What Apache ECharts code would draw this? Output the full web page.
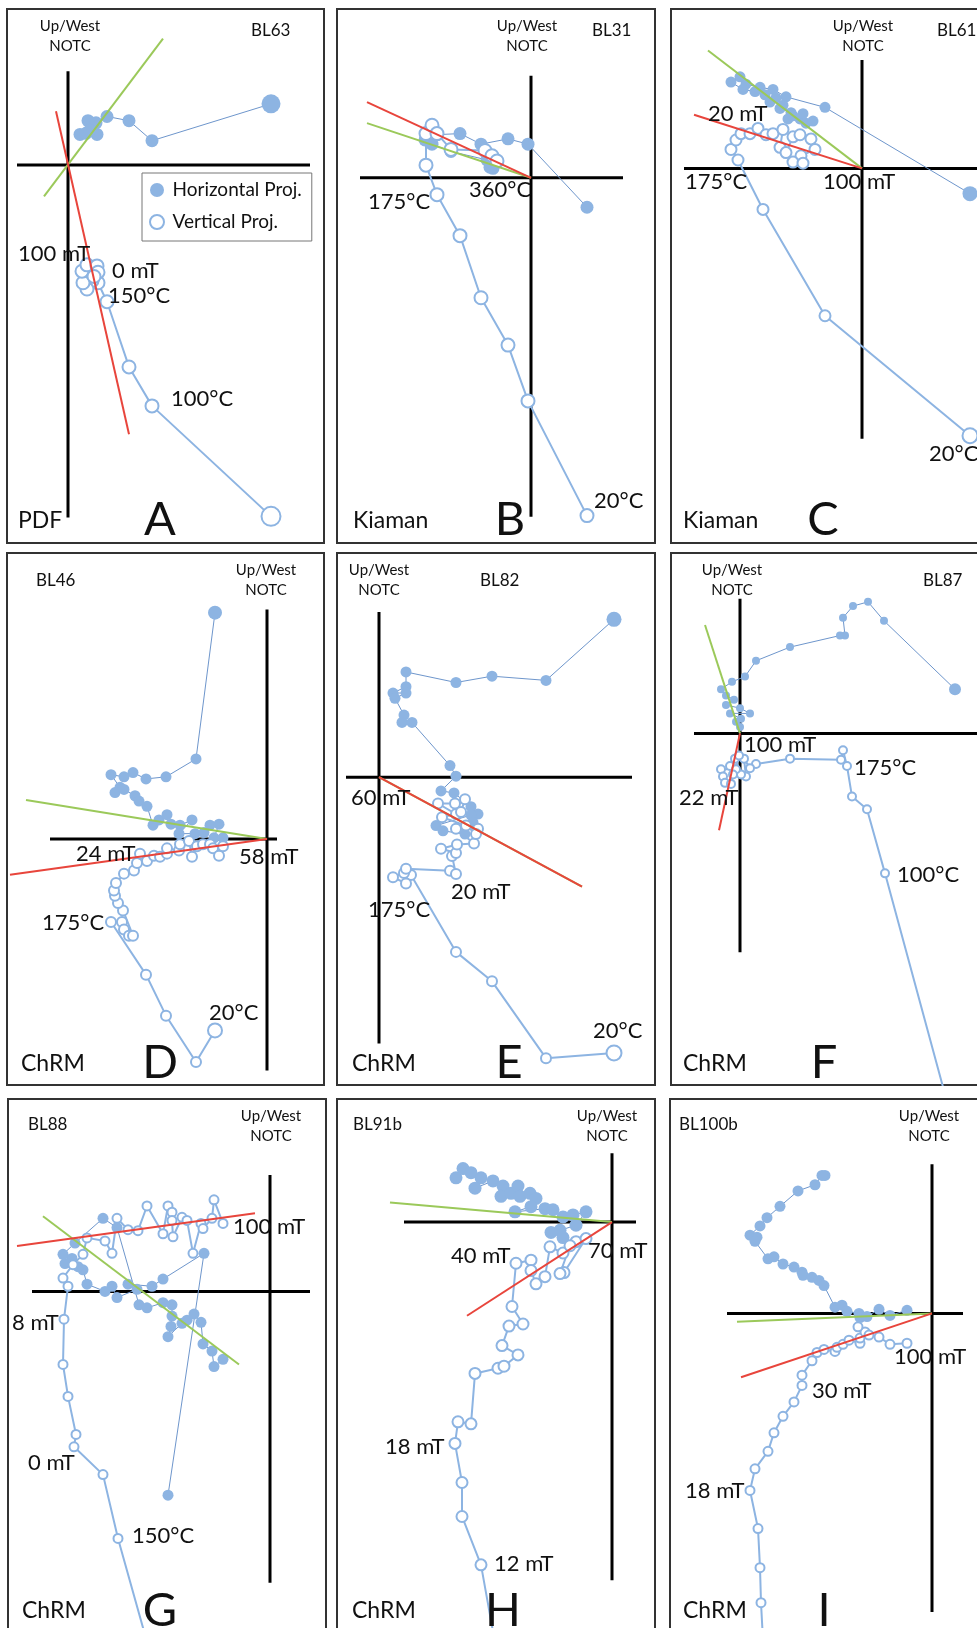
<!DOCTYPE html>
<html><head><meta charset="utf-8">
<script src="https://cdn.jsdelivr.net/npm/echarts@6/dist/echarts.min.js"></script>
<style>html,body{margin:0;padding:0;background:#fff}#c{width:977px;height:1628px}</style>
</head><body><div id="c"></div>
<script>
// ---------- DATA (arbitrary magnetisation units, origin at axis cross, y = up) ----------
const panelIds = ['A','B','C','D','E','F','G','H','I'];
const sampleNames = ['BL63','BL31','BL61','BL46','BL82','BL87','BL88','BL91b','BL100b'];
const componentNames = ['PDF','Kiaman','Kiaman','ChRM','ChRM','ChRM','ChRM','ChRM','ChRM'];
const legendNames = ['Horizontal Proj.','Vertical Proj.'];

const horizA = [[203,58],[84,23],[61,42],[39,46],[28,40],[20,42],[24,35],[12,29],[18,30],[29,29],[22,33]];
const vertA  = [[203,-334],[84,-229],[61,-192],[39,-130],[30,-112],[24,-110],[19,-118],[15,-112],[14,-101],[19,-95],[29,-96],[30,-102],[26,-106]];
const redA = [[-12,51],[61,-256]];
const greenA = [[-24,-30],[95,120]];

const horizB = [[56,-28],[-3,32],[-23,37],[-50,32],[-71,42],[-94,41],[-104,42],[-106,36],[-99,32],[-80,25],[-44,17],[-38,9],[-41,10]];
const vertB  = [[56,-321],[-3,-212],[-23,-159],[-50,-114],[-71,-55],[-94,-16],[-105,12],[-105,42],[-99,50],[-94,42],[-80,27],[-46,26],[-39,21],[-34,16]];
const redB = [[-164,72],[0,0]];
const greenB = [[-164,52],[0,0]];

const horizC = [[108,-24],[-37,58],[-76,68],[-89,75],[-102,77],[-116,80],[-122,87],[-131,82],[-119,75],[-107,73],[-97,70],[-92,63],[-86,67],[-79,60],[-82,57],[-71,53],[-74,47],[-69,50],[-62,47],[-59,52],[-56,43],[-49,45]];
const vertC  = [[108,-254],[-37,-140],[-99,-39],[-124,8],[-131,18],[-126,27],[-121,33],[-112,33],[-104,38],[-96,32],[-89,33],[-79,37],[-82,20],[-76,15],[-69,30],[-62,32],[-51,28],[-47,18],[-61,12],[-69,6],[-59,5]];
const redC = [[-168,51],[0,0]];
const greenC = [[-154,112],[0,0]];

const horizD = [[-52,215],[-71,76],[-101,59],[-121,57],[-134,63],[-143,59],[-156,61],[-147,49],[-152,44],[-143,47],[-132,41],[-128,36],[-120,31],[-114,13],[-108,18],[-100,23],[-96,14],[-87,13],[-75,18],[-88,5],[-72,5],[-63,6],[-57,13],[-48,14],[-53,1],[-44,1]];
const vertD  = [[-52,-182],[-71,-212],[-101,-168],[-121,-129],[-156,-79],[-145,-79],[-143,-86],[-138,-92],[-134,-92],[-144,-68],[-149,-61],[-152,-54],[-153,-49],[-151,-42],[-143,-33],[-133,-30],[-130,-23],[-127,-14],[-120,-21],[-113,-16],[-107,-17],[-100,-14],[-100,-9],[-88,-11],[-87,-5],[-78,-2],[-75,-17],[-70,-7],[-64,-5],[-57,-5],[-54,-9],[-48,-16],[-44,-7]];
const redD = [[-257,-34],[0,0]];
const greenD = [[-241,37],[0,0]];

const horizE = [[235,150],[167,92],[113,96],[77,90],[27,100],[27,86],[14,80],[27,80],[16,75],[25,59],[23,52],[33,52],[71,11],[77,1],[62,-13],[75,-15],[92,-28],[99,-35],[92,-36],[57,-46],[64,-51],[86,-54],[94,-43]];
const vertE  = [[235,-262],[167,-267],[113,-194],[77,-166],[32,-93],[27,-101],[14,-95],[25,-91],[27,-87],[71,-89],[77,-92],[73,-75],[77,-72],[62,-68],[78,-64],[95,-63],[77,-49],[99,-49],[97,-54],[87,-46],[63,-38],[77,-35],[59,-25],[76,-25],[86,-21],[82,-33]];
const redE = [[0,0],[203,-104]];
const greenE = [[0,0],[203,-104]];

const horizF = [[215,42],[144,107],[128,125],[113,121],[103,110],[105,93],[100,93],[50,82],[16,69],[5,54],[-8,49],[-19,42],[-14,36],[-6,32],[-14,27],[0,24],[10,19],[-10,19],[1,14],[-4,11],[0,6]];
const vertF  = [[213,-371],[145,-133],[127,-72],[112,-60],[107,-31],[103,-16],[101,-25],[50,-24],[16,-29],[10,-33],[4,-24],[6,-41],[1,-39],[-5,-24],[-10,-31],[-4,-34],[-19,-34],[-17,-41],[-15,-47],[-9,-48],[-7,-39],[-1,-21]];
const redF = [[-21,-92],[0,0]];
const greenF = [[-35,103],[0,0]];

const horizG = [[-102,-198],[-66,37],[-107,12],[-118,5],[-142,7],[-133,2],[-153,-6],[-158,5],[-165,0],[-183,7],[-187,21],[-192,24],[-198,32],[-205,27],[-207,36],[-195,47],[-167,71],[-153,62],[-131,-13],[-123,-16],[-107,-11],[-98,-13],[-98,-24],[-99,-34],[-102,-44],[-88,-31],[-83,-28],[-76,-22],[-69,-30],[-67,-51],[-58,-58],[-56,-73],[-47,-66]];
const vertG  = [[-120,-351],[-152,-240],[-167,-178],[-196,-151],[-194,-139],[-202,-102],[-207,-71],[-206,-27],[-202,5],[-207,13],[-197,26],[-187,36],[-183,52],[-165,49],[-158,37],[-153,71],[-142,60],[-132,59],[-123,83],[-107,56],[-102,83],[-98,77],[-98,69],[-97,53],[-88,72],[-83,69],[-77,37],[-69,66],[-67,61],[-58,71],[-56,89],[-47,66]];
const redG = [[-253,44],[-15,76]];
const greenG = [[-227,73],[-31,-71]];

const horizH = [[-156,43],[-149,52],[-141,48],[-131,43],[-137,33],[-119,40],[-109,35],[-111,25],[-101,28],[-94,35],[-92,25],[-82,28],[-76,23],[-81,15],[-97,10],[-67,13],[-59,12],[-49,5],[-39,7],[-26,10],[-36,-3],[-52,-8],[-61,-10],[-49,-15]];
const vertH  = [[-114,-425],[-131,-333],[-150,-286],[-150,-253],[-157,-215],[-154,-194],[-141,-196],[-137,-147],[-114,-142],[-108,-140],[-94,-129],[-110,-120],[-103,-101],[-89,-99],[-100,-82],[-96,-40],[-81,-37],[-81,-47],[-76,-60],[-67,-53],[-62,-24],[-49,-30],[-36,-19],[-26,-16],[-48,-49],[-52,-50],[-42,-23]];
const redH = [[-145,-91],[0,0]];
const greenH = [[-222,19],[0,0]];

const horizI = [[-107,134],[-110,134],[-117,125],[-134,119],[-152,104],[-165,93],[-172,85],[-182,76],[-175,74],[-177,70],[-164,53],[-158,55],[-149,48],[-138,45],[-130,40],[-129,37],[-120,35],[-113,32],[-108,27],[-97,6],[-90,8],[-85,2],[-73,0],[-72,-4],[-65,-3],[-53,4],[-42,-2],[-25,3]];
const vertI  = [[-168,-336],[-171,-281],[-172,-247],[-174,-209],[-182,-172],[-177,-151],[-164,-134],[-158,-116],[-149,-100],[-138,-86],[-130,-70],[-130,-60],[-120,-46],[-115,-38],[-108,-35],[-97,-37],[-95,-33],[-89,-30],[-83,-26],[-72,-29],[-72,-24],[-67,-18],[-74,-13],[-63,-21],[-53,-23],[-42,-30],[-25,-29]];
const redI = [[-191,-62],[0,0]];
const greenI = [[-195,-8],[0,0]];

// step annotations per panel
const stepLabelsA = ['100 mT','0 mT','150°C','100°C'];
const stepLabelsB = ['175°C','360°C','20°C'];
const stepLabelsC = ['20 mT','175°C','100 mT','20°C'];
const stepLabelsD = ['24 mT','58 mT','175°C','20°C'];
const stepLabelsE = ['60 mT','20 mT','175°C','20°C'];
const stepLabelsF = ['100 mT','175°C','22 mT','100°C'];
const stepLabelsG = ['100 mT','8 mT','0 mT','150°C'];
const stepLabelsH = ['40 mT','70 mT','18 mT','12 mT'];
const stepLabelsI = ['100 mT','30 mT','18 mT'];

const panelData = {
  A:{h:horizA,v:vertA,red:redA,green:greenA,steps:stepLabelsA},
  B:{h:horizB,v:vertB,red:redB,green:greenB,steps:stepLabelsB},
  C:{h:horizC,v:vertC,red:redC,green:greenC,steps:stepLabelsC},
  D:{h:horizD,v:vertD,red:redD,green:greenD,steps:stepLabelsD},
  E:{h:horizE,v:vertE,red:redE,green:greenE,steps:stepLabelsE},
  F:{h:horizF,v:vertF,red:redF,green:greenF,steps:stepLabelsF},
  G:{h:horizG,v:vertG,red:redG,green:greenG,steps:stepLabelsG},
  H:{h:horizH,v:vertH,red:redH,green:greenH,steps:stepLabelsH},
  I:{h:horizI,v:vertI,red:redI,green:greenI,steps:stepLabelsI}
};

// ---------- LAYOUT / STYLE ----------
const W = 977, HGT = 1628;
const K12 = 1.0523, K3 = 1.0293;   // vertical pixels per data unit
const layout = {
  A:{frame:[7,9,324,543],   origin:[68,164.9],  k:K12, hAx:[-51,242],  vAx:[-335,89],  hs:[19,13], vs:[19,13],
     head:[[70,26],[70,46]], sample:[251,31], comp:[18,521], letter:[160,520],
     steps:[[18,254],[112,271],[108,296],[171,399]]},
  B:{frame:[337,9,655,543], origin:[531,177.8], k:K12, hAx:[-171,92],  vAx:[-322,97],  hs:[13,13], vs:[13,13],
     head:[[527,26],[527,46]], sample:[592,31], comp:[353,521], letter:[510,520],
     steps:[[368,202],[469,190],[594,501]]},
  C:{frame:[671,9,995,543], origin:[862,168.4], k:K12, hAx:[-178,130], vAx:[-257,103], hs:[15,11], vs:[15,11],
     head:[[863,26],[863,46]], sample:[937,31], comp:[683,521], letter:[823,520],
     steps:[[708,114],[685,182],[823,182],[929,454]]},
  D:{frame:[7,553,324,1085], origin:[267,838.9], k:K12, hAx:[-217,10], vAx:[-220,218], hs:[14,11], vs:[14,10],
     head:[[266,570],[266,590]], sample:[36,581], comp:[21,1064], letter:[160,1063],
     steps:[[76,854],[239,857],[42,923],[209,1013]]},
  E:{frame:[337,553,655,1085], origin:[379,777.2], k:K12, hAx:[-33,253], vAx:[-253,157], hs:[15,11], vs:[15,10],
     head:[[379,570],[379,590]], sample:[480,581], comp:[352,1064], letter:[509,1063],
     steps:[[351,798],[451,892],[368,910],[593,1031]]},
  F:{frame:[671,553,995,1085], origin:[740,733.4], k:K12, hAx:[-46,250], vAx:[-208,128], hs:[12,8], vs:[8,8],
     head:[[732,570],[732,590]], sample:[923,581], comp:[683,1064], letter:[824,1063],
     steps:[[744,745],[854,768],[679,798],[897,875]]},
  G:{frame:[8,1099,326,1660], origin:[270,1291.4], k:K3, hAx:[-238,40], vAx:[-283,113], hs:[11,11], vs:[9,9],
     head:[[271,1116],[271,1136]], sample:[28,1125], comp:[22,1611], letter:[160,1611],
     steps:[[233,1227],[12,1323],[28,1463],[132,1536]]},
  H:{frame:[337,1099,655,1660], origin:[612,1222.1], k:K3, hAx:[-208,24], vAx:[-348,67], hs:[13,13], vs:[11,11],
     head:[[607,1116],[607,1136]], sample:[353,1125], comp:[352,1611], letter:[503,1611],
     steps:[[451,1256],[588,1251],[385,1447],[494,1564]]},
  I:{frame:[670,1099,995,1660], origin:[932,1313.4], k:K3, hAx:[-205,31], vAx:[-290,145], hs:[11,11], vs:[9,9],
     head:[[929,1116],[929,1136]], sample:[679,1125], comp:[683,1611], letter:[824,1611],
     steps:[[894,1357],[812,1391],[685,1491]]}
};

const FONT = 'Lato, "Open Sans", sans-serif';
const BLUE = '#8db4e2';
const BLUE_LINE = '#6e96cc';
const RED = '#e8453c';
const GREEN = '#9bc95a';

function txt(s, x, y, size, align) {
  return {type:'text', x:x, y:y, z:100, silent:true,
    style:{text:s, fill:'#111', font: size + 'px ' + FONT,
      textAlign:align, textVerticalAlign:'middle', align:align, verticalAlign:'middle'}};
}

const grids = [], xAxes = [], yAxes = [], series = [], graphics = [];

panelIds.forEach(function(id, i) {
  const L = layout[id], D = panelData[id];
  const [fx0, fy0, fx1, fy1] = L.frame;
  const gx1 = Math.min(fx1, W), gy1 = Math.min(fy1, HGT);
  const [ox, oy] = L.origin;
  grids.push({left:fx0, top:fy0, width:gx1-fx0, height:gy1-fy0, show:false, containLabel:false});
  xAxes.push({gridIndex:i, type:'value', min:fx0-ox, max:gx1-ox, show:false});
  yAxes.push({gridIndex:i, type:'value', min:(oy-gy1)/L.k, max:(oy-fy0)/L.k, show:false});

  graphics.push({type:'rect', z:0, silent:true, shape:{x:fx0, y:fy0, width:fx1-fx0, height:fy1-fy0},
    style:{fill:'none', stroke:'#333', lineWidth:2}});

  const base = {type:'line', xAxisIndex:i, yAxisIndex:i, animation:false, clip:true};
  series.push(Object.assign({}, base, {data:[[L.hAx[0],0],[L.hAx[1],0]], symbol:'none', silent:true,
    lineStyle:{color:'#000', width:3}, z:1}));
  series.push(Object.assign({}, base, {data:[[0,L.vAx[0]],[0,L.vAx[1]]], symbol:'none', silent:true,
    lineStyle:{color:'#000', width:3}, z:1}));
  series.push(Object.assign({}, base, {name:legendNames[0], data:D.h, symbol:'circle',
    symbolSize:function(v,p){return p.dataIndex===0 ? L.hs[0] : L.hs[1];},
    itemStyle:{color:BLUE, borderWidth:0}, lineStyle:{color:BLUE_LINE, width:1}, z:2}));
  series.push(Object.assign({}, base, {name:legendNames[1], data:D.v, symbol:'circle',
    symbolSize:function(v,p){return p.dataIndex===0 ? L.vs[0] : L.vs[1];},
    itemStyle:{color:'#fff', borderColor:BLUE, borderWidth:2}, lineStyle:{color:BLUE, width:2}, z:3}));
  series.push(Object.assign({}, base, {data:D.green, symbol:'none', silent:true,
    lineStyle:{color:GREEN, width:2}, z:4}));
  series.push(Object.assign({}, base, {data:D.red, symbol:'none', silent:true,
    lineStyle:{color:RED, width:2}, z:5}));

  graphics.push(txt('Up/West', L.head[0][0], L.head[0][1], 15, 'center'));
  graphics.push(txt('NOTC', L.head[1][0], L.head[1][1], 15, 'center'));
  graphics.push(txt(sampleNames[i], L.sample[0], L.sample[1], 17, 'left'));
  graphics.push(txt(componentNames[i], L.comp[0], L.comp[1], 23, 'left'));
  graphics.push(txt(id, L.letter[0], L.letter[1], 47, 'center'));
  D.steps.forEach(function(s, k){ graphics.push(txt(s, L.steps[k][0], L.steps[k][1], 22, 'left')); });
});

const chart = echarts.init(document.getElementById('c'), null, {renderer:'canvas'});
chart.setOption({
  animation:false,
  backgroundColor:'#fff',
  grid:grids, xAxis:xAxes, yAxis:yAxes, series:series,
  legend:{left:142, top:173, orient:'vertical', selectedMode:false, z:50,
    padding:[7,10,9,7], itemGap:12, itemWidth:21, itemHeight:14, symbolKeepAspect:true,
    backgroundColor:'#fff', borderColor:'#777', borderWidth:1,
    textStyle:{fontFamily:FONT, fontSize:19, lineHeight:20, color:'#111'},
    data:[
      {name:legendNames[0], icon:'circle', itemStyle:{color:BLUE, borderWidth:0}},
      {name:legendNames[1], icon:'circle', itemStyle:{color:'#fff', borderColor:BLUE, borderWidth:2}}
    ]},
  graphic:{elements:graphics}
});
</script>
</body></html>
